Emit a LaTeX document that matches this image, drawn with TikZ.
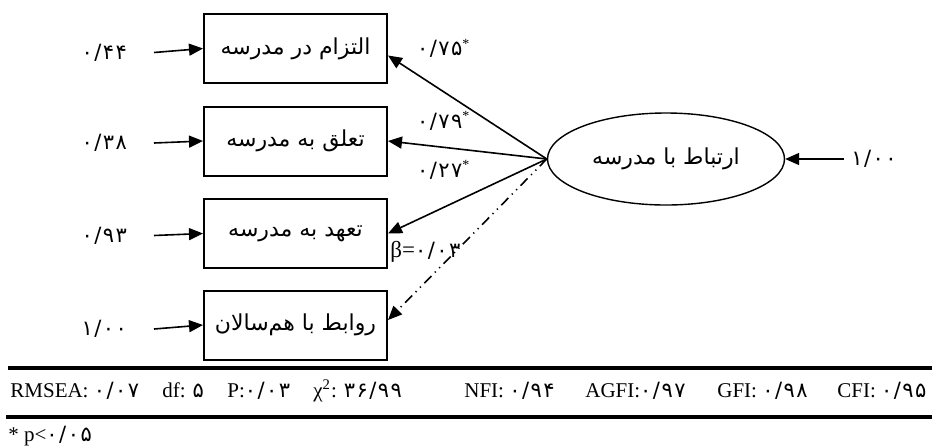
\documentclass[tikz,border=0pt]{standalone}
\usepackage{fontspec}
\setmainfont{Liberation Serif}
\newfontfamily\arabicfont[Script=Arabic]{DejaVu Sans}
\newfontfamily\fadigits[Script=Arabic,LetterSpace=7]{DejaVu Sans}
\TeXXeTstate=1
\usetikzlibrary{positioning}
\usetikzlibrary{shapes,arrows.meta}
\newcommand{\fanum}[1]{{\fadigits\fontsize{10.5}{12}\selectfont #1}}
\newcommand{\fatext}[1]{{\arabicfont\fontsize{11}{13}\selectfont\beginR #1\endR}}
\newcommand{\sig}{\textsuperscript{*}}
\tikzset{
obsbox/.style={
  draw,line width=1pt,minimum width=91.5pt,minimum height=34.5pt},
latent/.style={
  draw,ellipse,line width=0.7pt,minimum width=118.5pt,minimum height=46pt},
errarrow/.style={-{Triangle[length=7pt,width=6pt]},line width=0.8pt},
loadarrow/.style={-{Triangle[length=7pt,width=6pt]},line width=0.8pt},
dotdash/.style={dash pattern=on 5pt off 2.5pt on 0.6pt off 2.5pt on 0.6pt off 2.5pt},
fitrule/.style={line width=2pt},
fittext/.style={anchor=base west,inner sep=0pt,font=\fontsize{10.5}{12}\selectfont}
}
\begin{document}
\begin{tikzpicture}[x=0.5pt,y=-0.5pt]
\useasboundingbox (0,0) rectangle (932,446);

\node[obsbox](iltezam) at (295.5,48.5){\fatext{التزام در مدرسه}};
\node[obsbox](taalogh) at (295.5,141){\fatext{تعلق به مدرسه}};
\node[obsbox](taahod) at (295.5,233.5){\fatext{تعهد به مدرسه}};
\node[obsbox](ravabet) at (295.5,325){\fatext{روابط با هم‌سالان}};
\node[latent](ertebat) at (666,159){\fatext{ارتباط با مدرسه}};

\node[left=34.5pt of iltezam,yshift=-2pt](eIltezam){\fanum{۰/۴۴}};
\node[left=34.5pt of taalogh,yshift=-1pt](eTaalogh){\fanum{۰/۳۸}};
\node[left=34.5pt of taahod,yshift=-1pt](eTaahod){\fanum{۰/۹۳}};
\node[left=34.5pt of ravabet,yshift=-2pt](eRavabet){\fanum{۱/۰۰}};
\node[right=29.5pt of ertebat](eErtebat){\fanum{۱/۰۰}};

\draw[errarrow]([xshift=10pt]eIltezam.east)--(iltezam.west);
\draw[errarrow]([xshift=10pt]eTaalogh.east)--(taalogh.west);
\draw[errarrow]([xshift=10pt]eTaahod.east)--(taahod.west);
\draw[errarrow]([xshift=10pt]eRavabet.east)--(ravabet.west);
\draw[errarrow](eErtebat.west)--(ertebat.east);

\draw[loadarrow](ertebat.west)--([yshift=-3.5pt]iltezam.east);
\draw[loadarrow](ertebat.west)--(taalogh.east);
\draw[loadarrow](ertebat.west)--(taahod.east);
\draw[loadarrow,dotdash](ertebat.west)--([yshift=2.5pt]ravabet.east);

\node[right=11pt of iltezam.east](lIltezam){\fanum{۰/۷۵}\sig};
\node[right=11pt of taalogh.east,yshift=10pt](lTaalogh){\fanum{۰/۷۹}\sig};
\node[right=11pt of taalogh.east,yshift=-14.5pt](lTaahod){\fanum{۰/۲۷}\sig};
\node[right=0pt of taahod.east,yshift=-9pt,inner sep=1pt,font=\fontsize{11.5}{13}\selectfont](lRavabet){β=\fanum{۰/۰۳}};

\draw[fitrule](8,368)--(932,368);
\draw[fitrule](6,417)--(932,417);
\node[fittext](rmsea) at (10,397){RMSEA: \fanum{۰/۰۷}};
\node[fittext](df) at (162,397){df: \fanum{۵}};
\node[fittext](pval) at (227,397){P:\fanum{۰/۰۳}};
\node[fittext](chisq) at (313,397){χ\textsuperscript{2}: \fanum{۳۶/۹۹}};
\node[fittext](nfi) at (464,397){NFI: \fanum{۰/۹۴}};
\node[fittext](agfi) at (585,397){AGFI:\fanum{۰/۹۷}};
\node[fittext](gfi) at (717,397){GFI: \fanum{۰/۹۸}};
\node[fittext](cfi) at (837,397){CFI: \fanum{۰/۹۵}};
\node[fittext](pnote) at (8,441){* p<\fanum{۰/۰۵}};

\end{tikzpicture}
\end{document}
